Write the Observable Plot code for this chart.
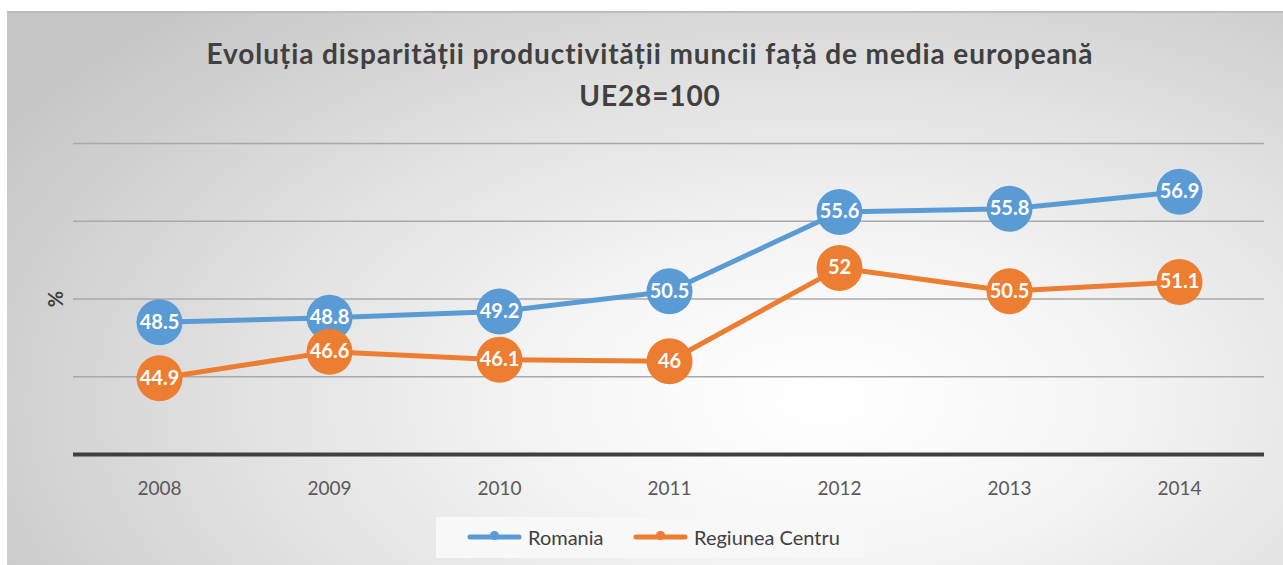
<!DOCTYPE html>
<html>
<head>
<meta charset="utf-8">
<script src="https://cdn.jsdelivr.net/npm/d3@7"></script>
<script src="https://cdn.jsdelivr.net/npm/@observablehq/plot@0.6"></script>
<style>
  html, body { margin: 0; padding: 0; background: #ffffff; }
  body { width: 1283px; height: 565px; position: relative; overflow: hidden; font-family: Lato, "Open Sans", sans-serif; }
  #bg { position: absolute; left: 7px; top: 11px; width: 1276px; height: 554px;
        border-top: 2px solid #bdbdbd;
        background: radial-gradient(ellipse 75% 95% at 64% 70%, #ffffff 0%, #f7f7f7 25%, #e2e2e2 60%, #c6c6c6 100%); }
  #title { position: absolute; left: 0; top: 32px; width: 1300px; text-align: center; color: #404040;
           font-weight: 700; font-size: 28px; line-height: 42px; letter-spacing: 0.9px; }
  #chart { position: absolute; left: 0; top: 130px; }
  #legend { position: absolute; left: 436px; top: 517px; width: 428px; height: 41px; background: #f8f8f8;
            color: #404040; font-size: 20px; }
  .item { position: absolute; top: 8px; display: flex; align-items: center; }
  .item span { margin-left: 6px; }
</style>
</head>
<body>
<div id="bg"></div>
<div id="title">Evoluția disparității productivității muncii față de media europeană<br>UE28=100</div>
<div id="chart"></div>
<div id="legend"></div>
<script>
const years = ["2008", "2009", "2010", "2011", "2012", "2013", "2014"];
const seriesNames = ["Romania", "Regiunea Centru"];
const romania = [48.5, 48.8, 49.2, 50.5, 55.6, 55.8, 56.9];
const centru = [44.9, 46.6, 46.1, 46, 52, 50.5, 51.1];
const colors = ["#5B9BD5", "#ED7D31"];
const gridTicks = [45, 50, 55, 60];

const data = [];
years.forEach((y, i) => {
  data.push({year: y, value: romania[i], series: seriesNames[0]});
  data.push({year: y, value: centru[i], series: seriesNames[1]});
});

const plot = Plot.plot({
  width: 1283,
  height: 380,
  marginLeft: 73,
  marginRight: 19,
  marginTop: 13,
  marginBottom: 56,
  style: {background: "transparent", fontFamily: "Lato, 'Open Sans', sans-serif", overflow: "visible"},
  x: {type: "point", domain: years, padding: 0.5},
  y: {domain: [40, 60]},
  color: {domain: seriesNames, range: colors},
  marks: [
    Plot.ruleY(gridTicks, {stroke: "#a8a8a8", strokeWidth: 1.5}),
    Plot.ruleY([40], {stroke: "#404040", strokeWidth: 4}),
    Plot.axisX({tickSize: 0, tickPadding: 27, fontSize: 19, color: "#595959", label: null}),
    Plot.axisY({ticks: [], label: "%", labelAnchor: "center", labelArrow: "none", labelOffset: 25, fontSize: 20, fontWeight: 700, color: "#404040"}),
    Plot.line(data, {x: "year", y: "value", z: "series", stroke: "series", strokeWidth: 5}),
    Plot.dot(data, {x: "year", y: "value", fill: "series", r: 23}),
    Plot.text(data, {x: "year", y: "value", text: d => String(d.value), fill: "white", fontWeight: 700, fontSize: 20})
  ]
});
document.getElementById("chart").appendChild(plot);

const legend = document.getElementById("legend");
const lefts = [31, 197];
seriesNames.forEach((name, i) => {
  const item = document.createElement("div");
  item.className = "item";
  item.style.left = lefts[i] + "px";
  item.innerHTML = `<svg width="55" height="12"><line x1="3" x2="52" y1="6" y2="6" stroke="${colors[i]}" stroke-width="5" stroke-linecap="round"/><circle cx="27.5" cy="4.5" r="4.5" fill="${colors[i]}"/></svg><span>${name}</span>`;
  legend.appendChild(item);
});
</script>
</body>
</html>
